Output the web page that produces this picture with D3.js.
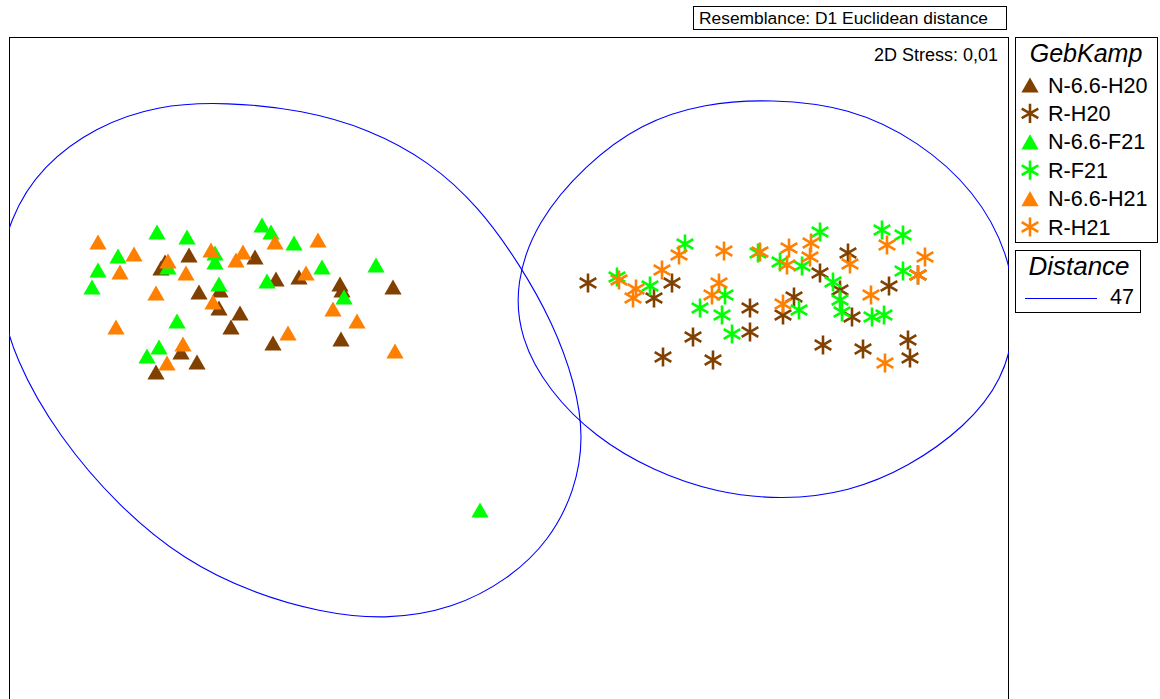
<!DOCTYPE html>
<html><head><meta charset="utf-8">
<script src="https://cdn.jsdelivr.net/npm/d3@7"></script>
<style>
body{margin:0;background:#fff}
svg{display:block}
text{font-family:"Liberation Sans",Arial,sans-serif;fill:#000}
</style>
</head><body>
<svg id="chart" width="1160" height="699"></svg>
<script>
// ---- data (MDS coordinates) ----
const groups = ["N-6.6-H20","R-H20","N-6.6-F21","R-F21","N-6.6-H21","R-H21"];
const groupColors = ["#804000","#804000","#00ff00","#00ff00","#ff8000","#ff8000"];
const groupShapes = ["triangle","asterisk","triangle","asterisk","triangle","asterisk"];

const n66H20 = [[-1.74,0.495],[-1.72,0.525],[-1.60,0.56],[-1.27,0.55],[-1.55,0.375],[-1.445,0.385],[-1.45,0.295],[-1.345,0.27],[-1.39,0.20],[-1.64,0.075],[-1.56,0.025],[-1.765,-0.025],[-1.165,0.44],[-1.05,0.45],[-0.845,0.415],[-0.835,0.385],[-0.58,0.40],[-1.18,0.12],[-0.84,0.14]];
const n66F21 = [[-1.76,0.675],[-1.61,0.65],[-1.955,0.555],[-1.705,0.50],[-1.47,0.57],[-1.47,0.525],[-2.055,0.485],[-2.085,0.40],[-1.45,0.415],[-1.66,0.23],[-1.75,0.10],[-1.81,0.055],[-1.235,0.71],[-1.19,0.675],[-1.075,0.62],[-0.935,0.50],[-0.665,0.51],[-1.21,0.43],[-0.825,0.35],[-0.145,-0.715]];
const n66H21 = [[-2.055,0.625],[-1.875,0.565],[-1.705,0.53],[-1.49,0.585],[-1.33,0.575],[-1.365,0.535],[-1.945,0.475],[-1.615,0.47],[-1.765,0.37],[-1.48,0.325],[-1.965,0.20],[-1.63,0.115],[-1.71,0.02],[-1.17,0.625],[-0.955,0.635],[-1.015,0.47],[-0.88,0.29],[-0.76,0.23],[-1.105,0.17],[-0.57,0.08]];
const rH20 = [[0.395,0.42],[0.725,0.345],[0.815,0.42],[1.205,0.295],[1.205,0.175],[0.92,0.15],[0.77,0.05],[1.02,0.035],[1.695,0.57],[1.555,0.47],[1.655,0.385],[1.90,0.405],[2.045,0.46],[1.425,0.35],[1.37,0.26],[1.715,0.25],[1.57,0.11],[1.77,0.09],[1.995,0.135],[2.005,0.045]];
const rF21 = [[0.54,0.45],[0.705,0.405],[0.88,0.615],[1.08,0.36],[0.955,0.295],[1.065,0.26],[1.115,0.165],[1.555,0.675],[1.245,0.57],[1.355,0.525],[1.465,0.505],[1.865,0.685],[1.97,0.66],[1.97,0.48],[1.62,0.425],[1.45,0.285],[1.655,0.335],[1.665,0.275],[1.815,0.25],[1.875,0.26]];
const rH21 = [[0.55,0.435],[0.635,0.39],[0.62,0.345],[0.765,0.485],[0.85,0.56],[1.075,0.58],[1.05,0.42],[1.015,0.36],[1.255,0.575],[1.40,0.595],[1.51,0.62],[1.505,0.55],[1.39,0.51],[1.705,0.515],[1.89,0.61],[2.08,0.55],[2.045,0.46],[1.81,0.36],[1.37,0.315],[1.88,0.02]];

// cluster contours at distance 47 (control points of a smooth closed curve)
const contourLeft = [[-1.41,1.325],[-1.03,1.285],[-0.70,1.19],[-0.40,1.03],[-0.15,0.80],[0.05,0.52],[0.22,0.22],[0.33,-0.08],[0.375,-0.35],[0.33,-0.62],[0.20,-0.87],[0.00,-1.06],[-0.28,-1.21],[-0.62,-1.265],[-0.95,-1.225],[-1.28,-1.13],[-1.62,-0.97],[-1.95,-0.70],[-2.25,-0.35],[-2.47,0.03],[-2.57,0.40],[-2.50,0.75],[-2.33,1.01],[-2.07,1.20],[-1.76,1.31]];
const contourRight = [[1.31,1.34],[1.70,1.30],[2.05,1.13],[2.33,0.88],[2.50,0.57],[2.545,0.24],[2.47,-0.07],[2.28,-0.30],[2.00,-0.50],[1.70,-0.625],[1.37,-0.665],[1.04,-0.63],[0.72,-0.52],[0.43,-0.35],[0.20,-0.12],[0.055,0.14],[0.03,0.42],[0.14,0.73],[0.38,1.01],[0.66,1.22],[0.98,1.32]];

const distanceLabel = "47";
const titleText = "Resemblance: D1 Euclidean distance";
const stressText = "2D Stress: 0,01";
const legendTitle = "GebKamp";
const distanceTitle = "Distance";

const seriesData = [n66H20, rH20, n66F21, rF21, n66H21, rH21];
// draw order (bottom to top)
const drawOrder = [0, 2, 4, 1, 3, 5];

// ---- layout ----
const svg = d3.select("#chart");
const plot = {x0: 9, y0: 37, x1: 1009, y1: 737};
const x = d3.scaleLinear().domain([-2.5, 2.5]).range([plot.x0, plot.x1]);
const y = d3.scaleLinear().domain([1.65, -1.85]).range([plot.y0, plot.y1]);

function trianglePath() {
  const w = 8.6, h = 7.6;
  return `M0,${-h}L${w},${h}L${-w},${h}Z`;
}
function asteriskPath(r) {
  const c = Math.cos(Math.PI/6)*r, s = Math.sin(Math.PI/6)*r;
  return `M0,${-r}L0,${r}M${-c},${-s}L${c},${s}M${-c},${s}L${c},${-s}`;
}
function drawSymbol(g, shape, color) {
  if (shape === "triangle") {
    g.append("path").attr("d", trianglePath()).attr("fill", color).attr("stroke", "none");
  } else {
    g.append("path").attr("d", asteriskPath(9.6)).attr("fill", "none").attr("stroke", color).attr("stroke-width", 2.6);
  }
}

// title box
svg.append("rect").attr("x", 693.5).attr("y", 6.5).attr("width", 313).attr("height", 23)
  .attr("fill", "#fff").attr("stroke", "#000").attr("stroke-width", 1);
svg.append("text").attr("x", 699).attr("y", 24).attr("font-size", 17.4).text(titleText);

// plot frame
svg.append("defs").append("clipPath").attr("id", "clip")
  .append("rect").attr("x", plot.x0).attr("y", plot.y0).attr("width", plot.x1 - plot.x0).attr("height", plot.y1 - plot.y0);
svg.append("rect").attr("x", plot.x0 + 0.5).attr("y", plot.y0 + 0.5)
  .attr("width", plot.x1 - plot.x0 - 1).attr("height", plot.y1 - plot.y0)
  .attr("fill", "#fff").attr("stroke", "#000").attr("stroke-width", 1);

svg.append("text").attr("x", 998).attr("y", 61).attr("text-anchor", "end").attr("font-size", 18).text(stressText);

// contours
const line = d3.line().x(d => x(d[0])).y(d => y(d[1])).curve(d3.curveBasisClosed);
const cg = svg.append("g").attr("clip-path", "url(#clip)");
[contourLeft, contourRight].forEach(c => {
  cg.append("path").attr("d", line(c)).attr("fill", "none").attr("stroke", "#0000ff").attr("stroke-width", 1.1);
});

// points
const pg = svg.append("g").attr("clip-path", "url(#clip)");
drawOrder.forEach(gi => {
  seriesData[gi].forEach(p => {
    const g = pg.append("g").attr("transform", `translate(${x(p[0])},${y(p[1])})`);
    drawSymbol(g, groupShapes[gi], groupColors[gi]);
  });
});

// legend
const lg = svg.append("g");
lg.append("rect").attr("x", 1015.5).attr("y", 37.5).attr("width", 142).attr("height", 205)
  .attr("fill", "#fff").attr("stroke", "#000");
lg.append("text").attr("x", 1086).attr("y", 62).attr("text-anchor", "middle")
  .attr("font-size", 25).attr("font-style", "italic").text(legendTitle);
groups.forEach((name, i) => {
  const cy = 85 + i * 28.4;
  const g = lg.append("g").attr("transform", `translate(1030,${cy})`);
  drawSymbol(g, groupShapes[i], groupColors[i]);
  lg.append("text").attr("x", 1048).attr("y", cy + 7.5).attr("font-size", 21.6).text(name);
});

const dg = svg.append("g");
dg.append("rect").attr("x", 1015.5).attr("y", 250.5).attr("width", 125).attr("height", 62)
  .attr("fill", "#fff").attr("stroke", "#000");
dg.append("text").attr("x", 1079).attr("y", 275).attr("text-anchor", "middle")
  .attr("font-size", 26).attr("font-style", "italic").text(distanceTitle);
dg.append("line").attr("x1", 1025).attr("x2", 1097).attr("y1", 298.5).attr("y2", 298.5)
  .attr("stroke", "#0000ff").attr("stroke-width", 1);
dg.append("text").attr("x", 1134).attr("y", 304).attr("text-anchor", "end").attr("font-size", 21.6).text(distanceLabel);
</script>
</body></html>
